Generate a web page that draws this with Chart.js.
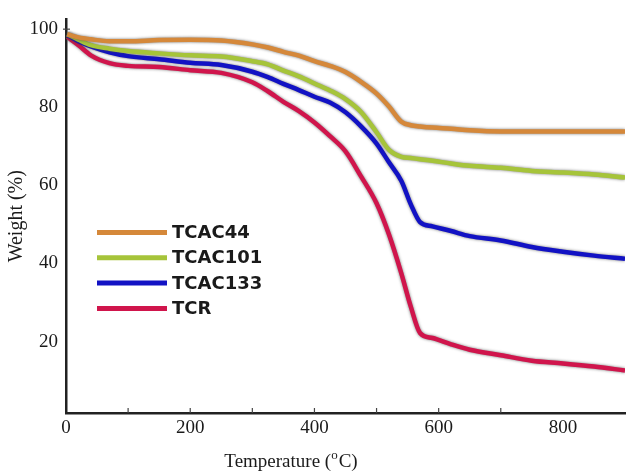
<!DOCTYPE html>
<html>
<head>
<meta charset="utf-8">
<script src="https://cdn.jsdelivr.net/npm/chart.js@4.4.1/dist/chart.umd.min.js"></script>
<style>
  html, body { margin: 0; padding: 0; background: #fff; }
</style>
</head>
<body>
<canvas id="tgaChart" width="627" height="472"></canvas>
<script>
// Data
const temperatures = [2, 20, 40, 70, 100, 150, 200, 250, 300, 325, 350, 375, 400, 425, 450, 475, 500, 520, 540, 555, 570, 590, 620, 650, 700, 750, 800, 850, 900];
const tcac44 = [98.7, 97.9, 97.4, 96.9, 96.9, 97.2, 97.3, 97.1, 96.1, 95.3, 94.2, 93.2, 91.8, 90.6, 89.0, 86.5, 83.5, 80.2, 76.3, 75.4, 75.1, 74.8, 74.5, 74.1, 73.8, 73.8, 73.8, 73.8, 73.8];
const tcac101 = [98.7, 97.3, 95.9, 95.0, 94.4, 93.8, 93.3, 93.0, 91.8, 91.0, 89.4, 87.9, 86.1, 84.3, 82.1, 78.8, 73.6, 69.1, 67.3, 67.0, 66.7, 66.3, 65.6, 65.0, 64.5, 63.7, 63.3, 62.8, 62.0];
const tcac133 = [98.5, 96.9, 95.6, 94.1, 93.1, 92.3, 91.4, 90.8, 89.1, 87.7, 86.0, 84.4, 82.7, 81.2, 78.7, 75.1, 70.7, 65.9, 61.1, 55.2, 50.6, 49.5, 48.3, 47.0, 45.9, 44.2, 43.0, 42.0, 41.2];
const tcr = [98.0, 95.9, 93.3, 91.3, 90.6, 90.3, 89.5, 88.8, 86.4, 84.1, 81.4, 79.0, 76.1, 72.6, 68.7, 62.3, 55.4, 47.4, 37.4, 29.0, 22.2, 20.9, 19.3, 17.9, 16.5, 15.1, 14.4, 13.6, 12.6];

const seriesNames = ["TCAC44", "TCAC101", "TCAC133", "TCR"];
const seriesColors = ["#D5883A", "#A6C43A", "#1212C4", "#D0154C"];
const xTickLabels = [0, 200, 400, 600, 800];
const yTickLabels = [20, 40, 60, 80, 100];

const toPoints = (vals) => vals.map((v, i) => ({ x: temperatures[i], y: v }));
const allSeries = [tcac44, tcac101, tcac133, tcr];

const serif = "'Liberation Serif', 'Times New Roman', serif";

// gray halo around each curve
const haloPlugin = {
    id: "halo",
    beforeDatasetDraw(chart) {
        const ctx = chart.ctx;
        ctx.save();
        ctx.shadowColor = "rgba(70,70,70,0.75)";
        ctx.shadowBlur = 3;
    },
    afterDatasetDraw(chart) {
        chart.ctx.restore();
    }
};

// legend inside the plot, plus small inward ticks and the x title
const extrasPlugin = {
    id: "extras",
    afterDraw(chart) {
        const ctx = chart.ctx;
        const xs = chart.scales.x, ys = chart.scales.y;
        const area = chart.chartArea;

        // legend
        ctx.save();
        ctx.font = "bold 18px 'DejaVu Sans', Verdana, sans-serif";
        ctx.textBaseline = "middle";
        chart.data.datasets.forEach((ds, i) => {
            const y = 232.5 + i * 25.3;
            ctx.strokeStyle = ds.borderColor;
            ctx.lineWidth = 5;
            ctx.beginPath();
            ctx.moveTo(97, y);
            ctx.lineTo(167, y);
            ctx.stroke();
            ctx.fillStyle = "#1a1a1a";
            ctx.fillText(ds.label, 172, y + 1);
        });
        ctx.restore();

        // minor ticks on x axis
        ctx.save();
        ctx.strokeStyle = "#444";
        ctx.lineWidth = 1.2;
        for (let v = 100; v <= 700; v += 100) {
            const px = xs.getPixelForValue(v);
            ctx.beginPath();
            ctx.moveTo(px, area.bottom);
            ctx.lineTo(px, area.bottom - 5);
            ctx.stroke();
        }
        const py = ys.getPixelForValue(100);
        ctx.beginPath();
        ctx.moveTo(area.left - 3, py);
        ctx.lineTo(area.left + 4, py);
        ctx.stroke();
        ctx.restore();

        // x axis title with raised "o"
        ctx.save();
        ctx.fillStyle = "#1a1a1a";
        ctx.textBaseline = "middle";
        const big = "19px " + serif, small = "13px " + serif;
        const p1 = "Temperature (", p2 = "o", p3 = "C)";
        ctx.font = big;
        const w1 = ctx.measureText(p1).width, w3 = ctx.measureText(p3).width;
        ctx.font = small;
        const w2 = ctx.measureText(p2).width + 1;
        let x = 291 - (w1 + w2 + w3) / 2;
        const ty = 462;
        ctx.font = big;
        ctx.fillText(p1, x, ty);
        ctx.font = small;
        ctx.fillText(p2, x + w1, ty - 6);
        ctx.font = big;
        ctx.fillText(p3, x + w1 + w2, ty);
        ctx.restore();
    }
};

new Chart(document.getElementById("tgaChart").getContext("2d"), {
    type: "line",
    data: {
        datasets: allSeries.map((vals, i) => ({
            label: seriesNames[i],
            data: toPoints(vals),
            borderColor: seriesColors[i],
            borderWidth: 4.5,
            pointRadius: 0,
            fill: false,
            cubicInterpolationMode: "monotone"
        }))
    },
    options: {
        responsive: false,
        animation: false,
        devicePixelRatio: 1,
        layout: { padding: { top: 15, right: 2, left: 0, bottom: 0 } },
        plugins: {
            legend: { display: false },
            tooltip: { enabled: false }
        },
        scales: {
            x: {
                type: "linear",
                min: 0,
                max: 900,
                afterBuildTicks: (s) => { s.ticks = xTickLabels.map(v => ({ value: v })); },
                afterFit: (s) => { s.height = 59; },
                grid: { display: false, drawTicks: false },
                border: { color: "#222", width: 2.5 },
                ticks: {
                    color: "#1a1a1a",
                    font: { family: serif, size: 19 },
                    padding: 4,
                    maxRotation: 0
                },
                title: { display: false }
            },
            y: {
                type: "linear",
                min: 1.7,
                max: 102.5,
                afterBuildTicks: (s) => { s.ticks = yTickLabels.map(v => ({ value: v })); },
                afterFit: (s) => { s.width = 66; },
                grid: { display: false, drawTicks: false },
                border: { color: "#222", width: 2.5 },
                ticks: {
                    color: "#1a1a1a",
                    font: { family: serif, size: 19 },
                    padding: 8
                },
                title: {
                    display: true,
                    text: "Weight (%)",
                    color: "#1a1a1a",
                    font: { family: serif, size: 20 },
                    padding: { top: 5, bottom: 0 }
                }
            }
        }
    },
    plugins: [haloPlugin, extrasPlugin]
});
</script>
</body>
</html>
